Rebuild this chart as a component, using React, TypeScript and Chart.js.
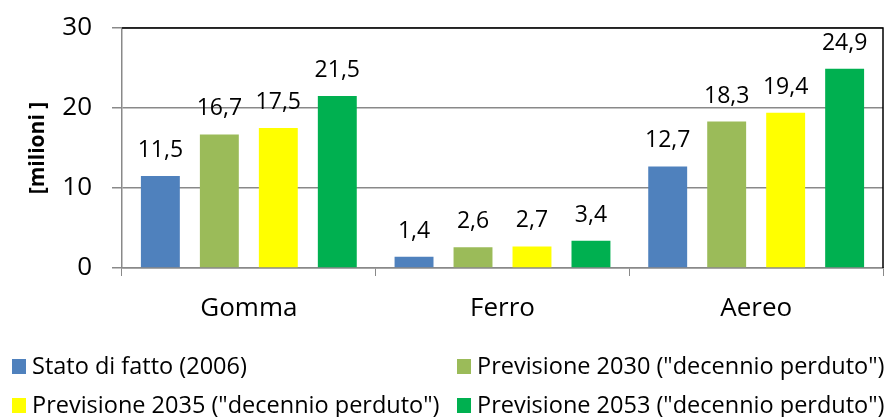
import React, { useEffect, useRef } from "react";
import { Chart, registerables } from "chart.js";
Chart.register(...registerables);

const categories = ["Gomma", "Ferro", "Aereo"];
const seriesNames = [
  "Stato di fatto (2006)",
  'Previsione 2030 ("decennio perduto")',
  'Previsione 2035 ("decennio perduto")',
  'Previsione 2053 ("decennio perduto")',
];
const stato2006 = [11.5, 1.4, 12.7];
const prev2030 = [16.7, 2.6, 18.3];
const prev2035 = [17.5, 2.7, 19.4];
const prev2053 = [21.5, 3.4, 24.9];
const yTicks = [0, 10, 20, 30];
const yTitle = "[milioni ]";
const colors = ["#4F81BD", "#9BBB59", "#FFFF00", "#00B050"];

const FONT = "'Open Sans'";

const valueLabels = {
  id: "valueLabels",
  afterDatasetsDraw(chart: any) {
    const ctx = chart.ctx;
    ctx.save();
    ctx.font = `23px ${FONT}`;
    ctx.fillStyle = "#000";
    ctx.textAlign = "center";
    ctx.textBaseline = "alphabetic";
    chart.data.datasets.forEach((ds: any, i: number) => {
      const meta = chart.getDatasetMeta(i);
      meta.data.forEach((el: any, j: number) => {
        const v = ds.data[j] as number;
        ctx.fillText(v.toFixed(1).replace(".", ","), el.x, el.y - 19);
      });
    });
    ctx.restore();
  },
};

const frame = {
  id: "frame",
  afterDraw(chart: any) {
    const { ctx, chartArea } = chart;
    ctx.save();
    ctx.strokeStyle = "#000";
    ctx.lineWidth = 1.5;
    ctx.beginPath();
    ctx.moveTo(chartArea.left, chartArea.top);
    ctx.lineTo(chartArea.right, chartArea.top);
    ctx.lineTo(chartArea.right, chartArea.bottom);
    ctx.stroke();
    ctx.restore();
  },
};

const gridLegend = {
  id: "gridLegend",
  afterDraw(chart: any) {
    const ctx = chart.ctx;
    const half = chart.width / 2;
    const colX = [12, half + 12];
    const rowBase = [374, 413];
    ctx.save();
    ctx.font = `23.5px ${FONT}`;
    ctx.textBaseline = "alphabetic";
    ctx.textAlign = "left";
    chart.data.datasets.forEach((ds: any, i: number) => {
      const x = colX[i % 2];
      const y = rowBase[Math.floor(i / 2)];
      ctx.fillStyle = ds.backgroundColor;
      ctx.fillRect(x, y - 15, 14, 15);
      ctx.fillStyle = "#000";
      ctx.fillText(ds.label, x + 20, y);
    });
    ctx.restore();
  },
};

export default function App() {
  const ref = useRef<HTMLCanvasElement>(null);
  useEffect(() => {
    const series = [stato2006, prev2030, prev2035, prev2053];
    const chart = new Chart(ref.current!, {
      type: "bar",
      data: {
        labels: categories,
        datasets: series.map((d, i) => ({
          label: seriesNames[i],
          data: d,
          backgroundColor: colors[i],
          borderWidth: 0,
          categoryPercentage: 0.93,
          barPercentage: 0.66,
        })),
      },
      options: {
        animation: false,
        responsive: true,
        maintainAspectRatio: false,
        layout: { padding: { top: 28, right: 7, left: 0, bottom: 0 } },
        plugins: { legend: { display: false }, tooltip: { enabled: false } },
        scales: {
          x: {
            afterFit: (s: any) => {
              s.height = 149;
            },
            grid: {
              offset: true,
              drawOnChartArea: false,
              tickLength: 8,
              color: "#898989",
            },
            border: { color: "#898989", width: 1.5 },
            ticks: {
              color: "#000",
              font: { family: FONT, size: 26 },
              padding: 17,
            },
          },
          y: {
            min: 0,
            max: 30,
            afterFit: (s: any) => {
              s.width = 122;
              s.paddingTop = 0;
              s.paddingBottom = 0;
            },
            afterBuildTicks: (s: any) => {
              s.ticks = yTicks.map((v) => ({ value: v }));
            },
            grid: { color: "#898989", tickLength: 10, lineWidth: 1.5 },
            border: { color: "#898989", width: 1.5 },
            ticks: {
              color: "#000",
              font: { family: FONT, size: 26 },
              padding: 20,
            },
            title: {
              display: true,
              text: yTitle,
              color: "#000",
              font: { family: FONT, size: 21, weight: "bold" },
              padding: { top: 25, bottom: 0 },
            },
          },
        },
      },
      plugins: [valueLabels, frame, gridLegend],
    } as any);
    return () => chart.destroy();
  }, []);
  return (
    <div style={{ position: "absolute", left: 0, top: 0, width: 890, height: 417, background: "#fff" }}>
      <canvas ref={ref} />
    </div>
  );
}
